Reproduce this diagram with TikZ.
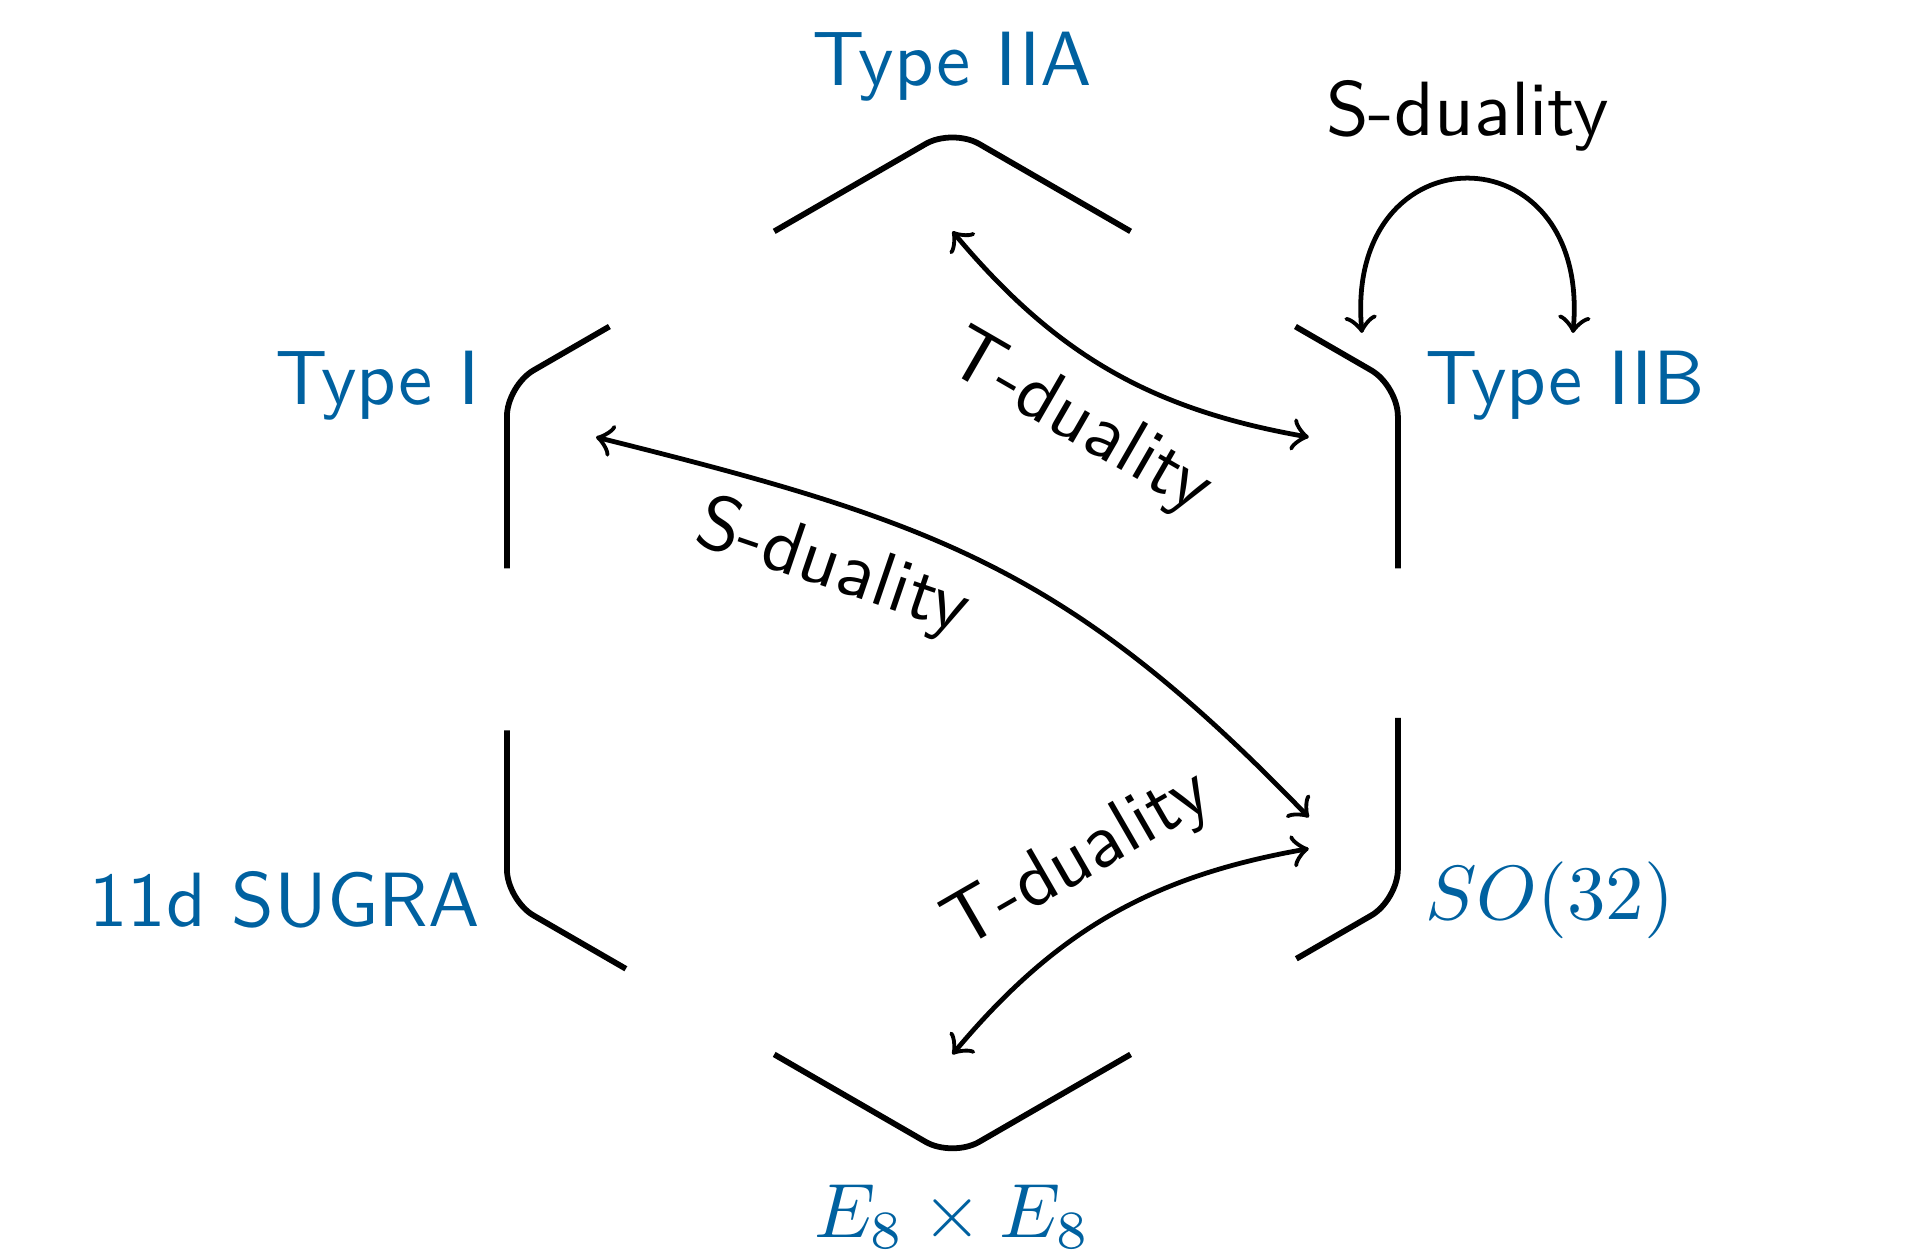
\documentclass[tikz,border=0pt]{standalone}
\usepackage{amsmath}
\usepackage{xcolor}
\usepackage{tikz}
\usetikzlibrary{calc}
\definecolor{theoryblue}{RGB}{0,97,160}

\begin{document}
\begin{tikzpicture}[font=\sffamily, theory/.style={text=theoryblue}, hexline/.style={line width=0.75pt, rounded corners=4pt}, duality/.style={<->, line width=0.62pt}]
	\useasboundingbox (-4.351,-2.796) rectangle (4.466,2.937);
	\coordinate (v1) at (90:2.35);
	\coordinate (v2) at (150:2.35);
	\coordinate (v3) at (210:2.35);
	\coordinate (v4) at (270:2.35);
	\coordinate (v5) at (330:2.35);
	\coordinate (v6) at (30:2.35);
	\coordinate (a1) at (90:1.88);
	\coordinate (a2) at (150:1.88);
	\coordinate (a4) at (270:1.88);
	\coordinate (a5) at (330:1.88);
	\coordinate (a6) at (30:1.88);
	\coordinate (a5s) at ($(a5)+(0,0.143)$);
	\coordinate (loopl) at (1.871,1.416);
	\coordinate (loopr) at (2.835,1.416);
	\node[theory, above] (iia) at (v1) {Type IIA};
	\node[theory, left] (typei) at (v2) {Type I};
	\node[theory, left] (sugra) at (v3) {11d SUGRA};
	\node[theory, below] (eight) at (v4) {$E_8\times E_8$};
	\node[theory, right] (so) at (v5) {$SO(32)$};
	\node[theory, right] (iib) at (v6) {Type IIB};
	\draw[hexline] ($(v1)!0.4!(v2)$) -- (v1) -- ($(v1)!0.4!(v6)$);
	\draw[hexline] ($(v2)!0.23!(v1)$) -- (v2) -- ($(v2)!0.355!(v3)$);
	\draw[hexline] ($(v3)!0.33!(v2)$) -- (v3) -- ($(v3)!0.267!(v4)$);
	\draw[hexline] ($(v4)!0.4!(v3)$) -- (v4) -- ($(v4)!0.4!(v5)$);
	\draw[hexline] ($(v5)!0.228!(v4)$) -- (v5) -- ($(v5)!0.354!(v6)$);
	\draw[hexline] ($(v6)!0.355!(v5)$) -- (v6) -- ($(v6)!0.23!(v1)$);
	\draw[duality] (a1) to[bend right=20] node[sloped, below] {T-duality} (a6);
	\draw[duality] (a4) to[bend left=20] node[sloped, above] {T-duality} (a5);
	\draw[duality] (a2) to[out=-14, in=134, looseness=1.1] node[pos=0.3, sloped, below] {S-duality} (a5s);
	\draw[duality] (loopl) to[out=95, in=85, looseness=2.5] node[above] {S-duality} (loopr);
\end{tikzpicture}
\end{document}
